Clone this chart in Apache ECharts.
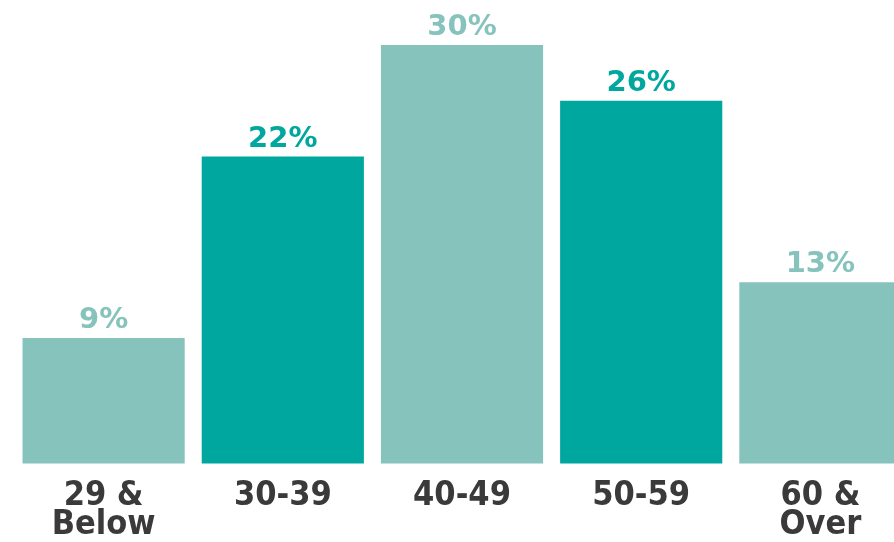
<!DOCTYPE html>
<html><head><meta charset="utf-8">
<script src="https://cdn.jsdelivr.net/npm/echarts@6/dist/echarts.min.js"></script>
<style>html,body{margin:0;padding:0;background:#fff;overflow:hidden;width:894px;height:542px}#c{width:910px;height:542px}</style>
</head><body><div id="c"></div>
<script>
const categories = ['29 &\nBelow', '30-39', '40-49', '50-59', '60 &\nOver'];
const values = [9, 22, 30, 26, 13];
const barColors = ['#86C3BD', '#00A79E', '#86C3BD', '#00A79E', '#86C3BD'];

const chart = echarts.init(document.getElementById('c'), null, {renderer: 'canvas'});
chart.setOption({
  animation: false,
  grid: {left: 14, right: 0, top: 45, bottom: 75, containLabel: false},
  xAxis: {
    type: 'category', data: categories,
    axisLine: {show: false}, axisTick: {show: false},
    axisLabel: {
      interval: 0, margin: 18, color: '#3a3a3a',
      fontFamily: 'DejaVu Sans Condensed', fontWeight: 'bold', fontSize: 34, lineHeight: 29
    }
  },
  yAxis: {type: 'value', min: 0, max: 30, show: false, splitLine: {show: false}},
  series: [{
    type: 'bar', barCategoryGap: '9.5%',
    data: values.map((v, i) => ({
      value: v,
      itemStyle: {color: barColors[i]},
      label: {color: barColors[i]}
    })),
    label: {
      show: true, position: 'top', distance: 3,
      formatter: '{c}%', fontFamily: 'DejaVu Sans', fontWeight: 'bold', fontSize: 29
    }
  }]
});
</script></body></html>
